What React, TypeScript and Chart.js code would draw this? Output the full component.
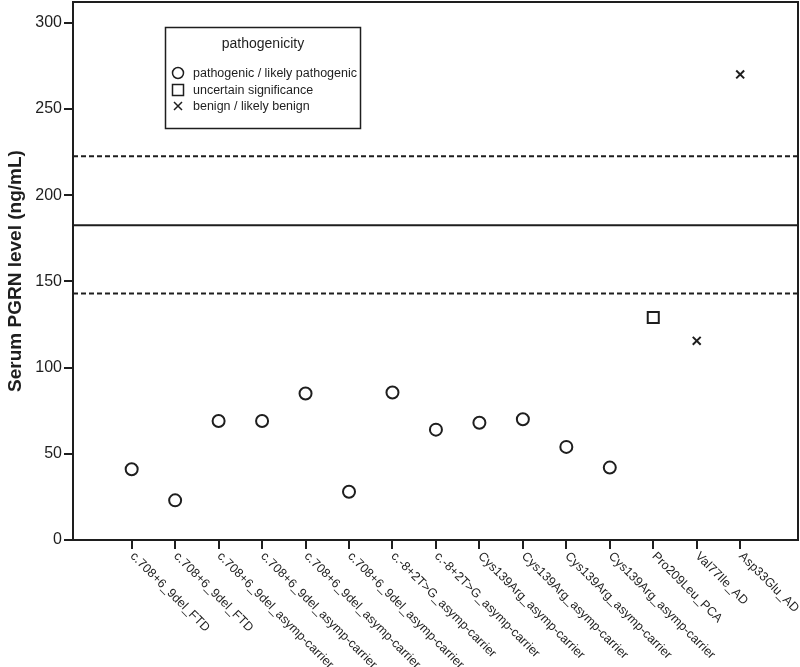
import React, { useEffect, useRef } from "react";
import { Chart, registerables } from "chart.js";

Chart.register(...registerables);

const categories = [
  "c.708+6_9del_FTD",
  "c.708+6_9del_FTD",
  "c.708+6_9del_asymp-carrier",
  "c.708+6_9del_asymp-carrier",
  "c.708+6_9del_asymp-carrier",
  "c.708+6_9del_asymp-carrier",
  "c.-8+2T>G_asymp-carrier",
  "c.-8+2T>G_asymp-carrier",
  "Cys139Arg_asymp-carrier",
  "Cys139Arg_asymp-carrier",
  "Cys139Arg_asymp-carrier",
  "Cys139Arg_asymp-carrier",
  "Pro209Leu_PCA",
  "Val77Ile_AD",
  "Asp33Glu_AD",
];

const pgrnValues = [41, 23, 69, 69, 85, 28, 85.5, 64, 68, 70, 54, 42, 129, 115.5, 270];

const pathogenicity = [
  "P", "P", "P", "P", "P", "P", "P", "P", "P", "P", "P", "P", "U", "B", "B",
];

const classKeys = ["P", "U", "B"];
const classLabels = [
  "pathogenic / likely pathogenic",
  "uncertain significance",
  "benign / likely benign",
];
const classStyles = ["circle", "rect", "crossRot"];

const meanLine = 182.5;
const upperLine = 222.5;
const lowerLine = 143;

const yTicks = [0, 50, 100, 150, 200, 250, 300];
const yMin = 0;
const yMax = 312;
const xMin = -1.35;
const xMax = 15.33;

const FONT = '"Liberation Sans", Arial, Helvetica, sans-serif';
const INK = "#1e1e1e";

const overlayPlugin = {
  id: "overlay",
  afterDraw(chart: any) {
    const { ctx, chartArea } = chart;
    const xs = chart.scales.x;
    ctx.save();
    // frame top and right
    ctx.strokeStyle = INK;
    ctx.lineWidth = 2;
    ctx.beginPath();
    ctx.moveTo(chartArea.left, chartArea.top);
    ctx.lineTo(chartArea.right, chartArea.top);
    ctx.lineTo(chartArea.right, chartArea.bottom);
    ctx.stroke();

    // x labels rotated
    ctx.font = "12.5px " + FONT;
    ctx.fillStyle = INK;
    ctx.textAlign = "left";
    ctx.textBaseline = "top";
    categories.forEach((c, i) => {
      const px = xs.getPixelForValue(i);
      ctx.save();
      ctx.translate(px + 5, chartArea.bottom + 10);
      ctx.rotate(Math.PI / 4);
      ctx.fillText(c, 0, 0);
      ctx.restore();
    });

    // legend box
    const bx = 165, by = 27, bw = 195, bh = 101;
    ctx.lineWidth = 1.5;
    ctx.strokeStyle = INK;
    ctx.strokeRect(bx + 0.5, by + 0.5, bw, bh);
    ctx.font = "14px " + FONT;
    ctx.textAlign = "center";
    ctx.textBaseline = "middle";
    ctx.fillText("pathogenicity", bx + 98, by + 17);
    ctx.font = "12.5px " + FONT;
    ctx.textAlign = "left";
    const rowsY = [73, 90, 106];
    classLabels.forEach((lab, k) => {
      const cy = rowsY[k];
      const cx = 178;
      ctx.lineWidth = 1.5;
      ctx.beginPath();
      if (classStyles[k] === "circle") {
        ctx.arc(cx, cy, 5.5, 0, Math.PI * 2);
      } else if (classStyles[k] === "rect") {
        ctx.rect(cx - 5.5, cy - 5.5, 11, 11);
      } else {
        ctx.moveTo(cx - 4, cy - 4);
        ctx.lineTo(cx + 4, cy + 4);
        ctx.moveTo(cx + 4, cy - 4);
        ctx.lineTo(cx - 4, cy + 4);
      }
      ctx.stroke();
      ctx.fillText(lab, 193, cy + 1);
    });
    ctx.restore();
  },
};

export default function App() {
  const canvasRef = useRef<HTMLCanvasElement | null>(null);

  useEffect(() => {
    document.body.style.margin = "0";
    const canvas = canvasRef.current;
    if (!canvas) return;

    const pointDatasets = classKeys.map((key, k) => ({
      type: "scatter" as const,
      label: classLabels[k],
      data: pgrnValues
        .map((v, i) => ({ x: i, y: v, c: pathogenicity[i] }))
        .filter((p) => p.c === key)
        .map((p) => ({ x: p.x, y: p.y })),
      pointStyle: classStyles[k],
      pointRadius: k === 0 ? 6 : k === 1 ? 7.8 : 5.6,
      pointBorderWidth: 2,
      pointBackgroundColor: "#ffffff",
      pointBorderColor: INK,
      showLine: false,
    }));

    const lineDataset = (y: number, dash: number[]) => ({
      type: "line" as const,
      label: "ref",
      data: [
        { x: xMin, y },
        { x: xMax, y },
      ],
      borderColor: INK,
      borderWidth: 2,
      borderDash: dash,
      pointRadius: 0,
      fill: false,
    });

    const chart = new Chart(canvas, {
      type: "scatter",
      data: {
        datasets: [
          lineDataset(meanLine, []),
          lineDataset(upperLine, [5, 3]),
          lineDataset(lowerLine, [5, 3]),
          ...pointDatasets,
        ] as any,
      },
      plugins: [overlayPlugin],
      options: {
        animation: false,
        responsive: false,
        layout: { autoPadding: false, padding: { top: 2, right: 2, left: 0, bottom: 0 } },
        plugins: {
          legend: { display: false },
          tooltip: { enabled: false },
        },
        scales: {
          x: {
            type: "linear",
            min: xMin,
            max: xMax,
            afterBuildTicks: (scale: any) => {
              scale.ticks = categories.map((_, i) => ({ value: i }));
            },
            afterFit: (scale: any) => {
              scale.height = 127;
              scale.paddingLeft = 0;
              scale.paddingRight = 0;
            },
            ticks: { display: false },
            grid: {
              drawOnChartArea: false,
              drawTicks: true,
              tickLength: 9,
              color: INK,
              lineWidth: 2,
            },
            border: { color: INK, width: 2 },
          },
          y: {
            type: "linear",
            min: yMin,
            max: yMax,
            afterBuildTicks: (scale: any) => {
              scale.ticks = yTicks.map((v) => ({ value: v }));
            },
            afterFit: (scale: any) => {
              scale.width = 73;
              scale.paddingTop = 0;
              scale.paddingBottom = 0;
            },
            ticks: {
              color: INK,
              padding: 2,
              font: { family: FONT, size: 16 },
            },
            grid: {
              drawOnChartArea: false,
              drawTicks: true,
              tickLength: 9,
              color: INK,
              lineWidth: 2,
            },
            border: { color: INK, width: 2 },
            title: {
              display: true,
              text: "Serum PGRN level (ng/mL)",
              color: INK,
              font: { family: FONT, size: 19, weight: "bold" },
              padding: { top: 4, bottom: 0 },
            },
          },
        },
      } as any,
    });

    return () => chart.destroy();
  }, []);

  return (
    <div style={{ width: 800, height: 667, background: "#fff" }}>
      <canvas ref={canvasRef} width={800} height={667} style={{ display: "block" }} />
    </div>
  );
}
